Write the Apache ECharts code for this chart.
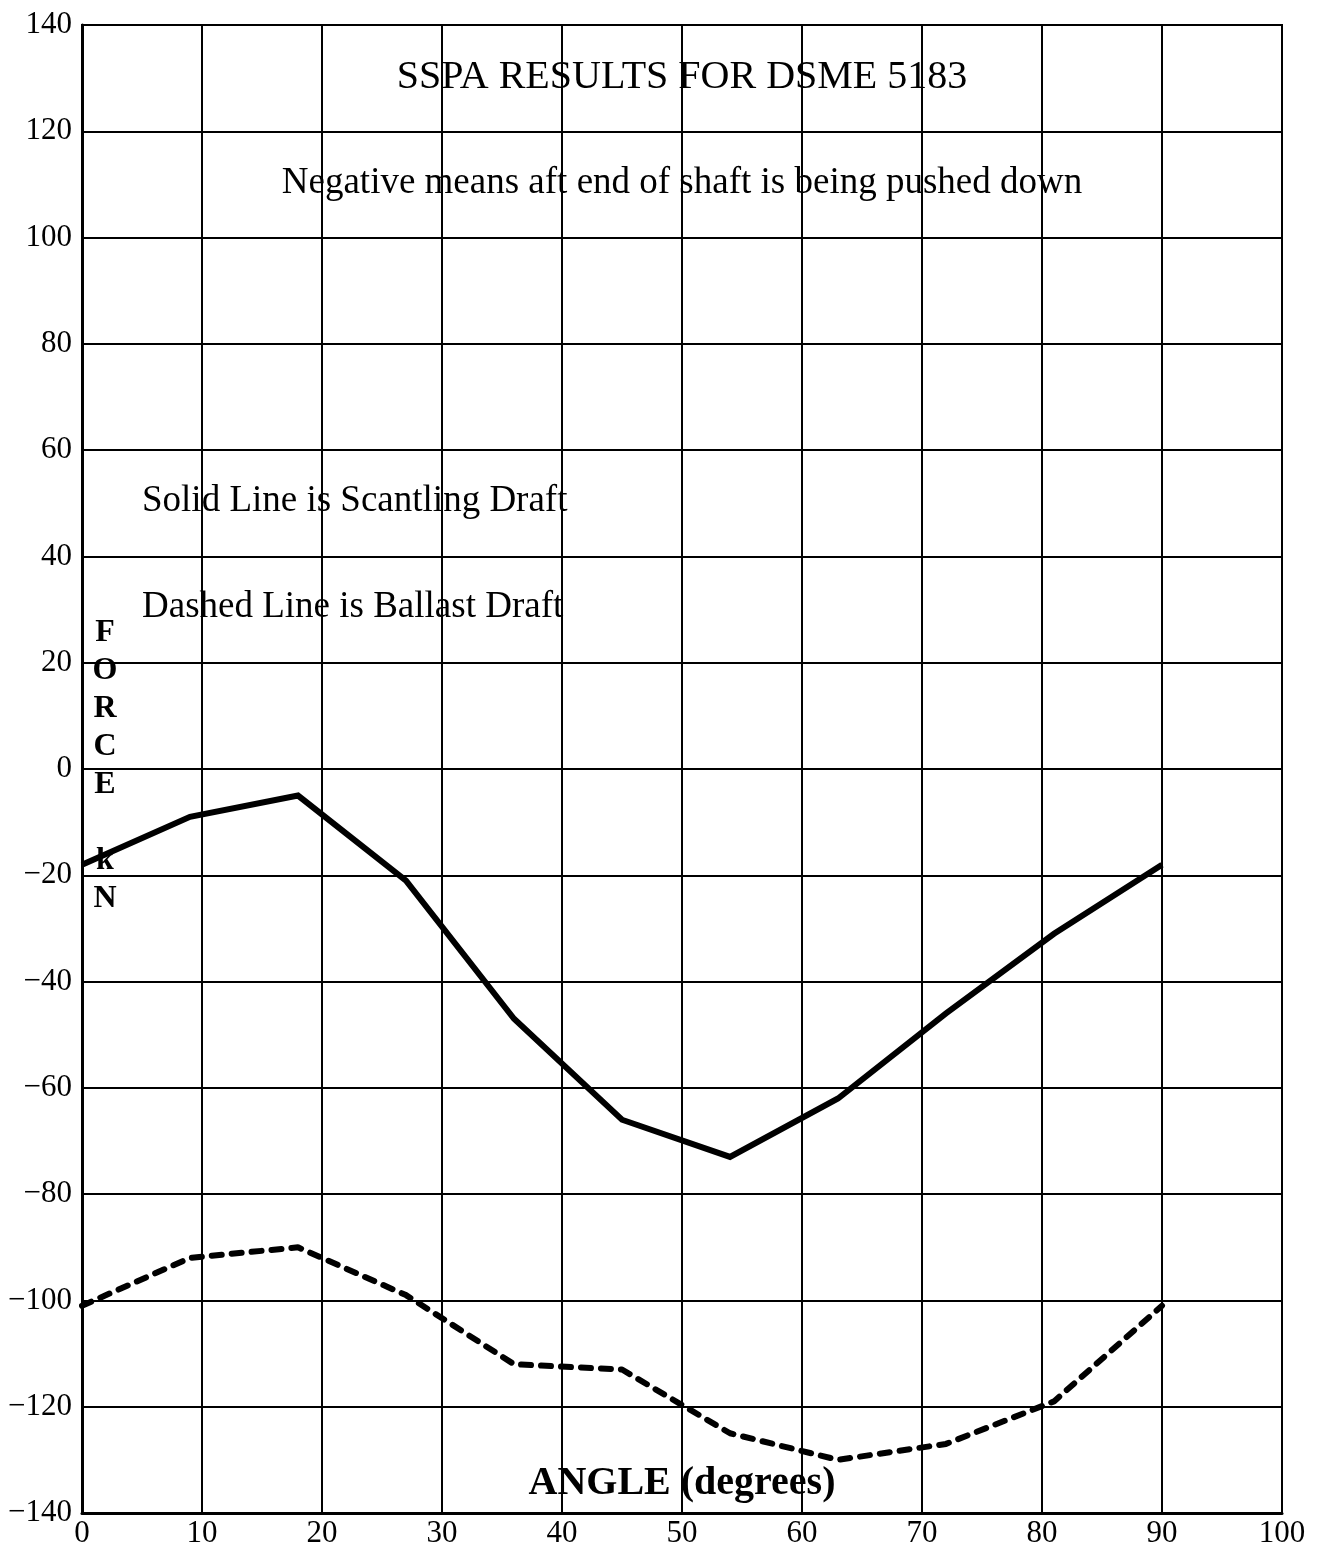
<!DOCTYPE html>
<html>
<head>
<meta charset="utf-8">
<script src="https://cdn.jsdelivr.net/npm/echarts@6/dist/echarts.min.js"></script>
<style>html,body{margin:0;padding:0;background:#fff}#c{width:1323px;height:1550px}</style>
</head>
<body>
<div id="c"></div>
<script>
const angles = [0, 9, 18, 27, 36, 45, 54, 63, 72, 81, 90];
const scantlingDraft = [-18, -9, -5, -21, -47, -66, -73, -62, -46, -31, -18];
const ballastDraft = [-101, -92, -90, -99, -112, -113, -125, -130, -127, -119, -101];
const titleText = 'SSPA RESULTS FOR DSME 5183';
const noteText = 'Negative means aft end of shaft is being pushed down';
const solidNote = 'Solid Line is Scantling Draft';
const dashedNote = 'Dashed Line is Ballast Draft';
const xName = 'ANGLE (degrees)';
const yName = 'F\nO\nR\nC\nE\n\nk\nN';

const FONT = '"Liberation Serif", "Times New Roman", serif';
const chart = echarts.init(document.getElementById('c'));
const fmt = v => String(v).replace('-', '\u2212');
chart.setOption({
  backgroundColor: '#fff',
  animation: false,
  grid: { left: 82, right: 41, top: 25, bottom: 37, containLabel: false },
  xAxis: {
    type: 'value', min: 0, max: 100, interval: 10,
    axisLine: { show: true, onZero: false, lineStyle: { color: '#000', width: 3 } },
    axisTick: { show: false },
    splitLine: { show: true, lineStyle: { color: '#000', width: 2 } },
    axisLabel: { color: '#000', fontFamily: FONT, fontSize: 31, margin: 5, formatter: fmt }
  },
  yAxis: {
    type: 'value', min: -140, max: 140, interval: 20,
    axisLine: { show: true, onZero: false, lineStyle: { color: '#000', width: 3 } },
    axisTick: { show: false },
    splitLine: { show: true, lineStyle: { color: '#000', width: 2 } },
    axisLabel: { color: '#000', fontFamily: FONT, fontSize: 31, margin: 10, formatter: fmt }
  },
  graphic: [
    { type: 'rect', shape: { x: 82, y: 25, width: 1200, height: 1488 }, style: { fill: 'none', stroke: '#000', lineWidth: 2 }, z: 10, silent: true },
    { type: 'text', x: 682, y: 77, z: 5, style: { text: titleText, font: '40px ' + FONT, fill: '#000', textAlign: 'center', textVerticalAlign: 'middle' } },
    { type: 'text', x: 682, y: 183, z: 5, style: { text: noteText, font: '37px ' + FONT, fill: '#000', textAlign: 'center', textVerticalAlign: 'middle' } },
    { type: 'text', x: 142, y: 501, z: 5, style: { text: solidNote, font: '37px ' + FONT, fill: '#000', textAlign: 'left', textVerticalAlign: 'middle' } },
    { type: 'text', x: 142, y: 607, z: 5, style: { text: dashedNote, font: '37px ' + FONT, fill: '#000', textAlign: 'left', textVerticalAlign: 'middle' } },
    { type: 'text', x: 682, y: 1484, z: 5, style: { text: xName, font: 'bold 40px ' + FONT, fill: '#000', textAlign: 'center', textVerticalAlign: 'middle' } },
    { type: 'text', x: 105, y: 614, z: 5, style: { text: yName, font: 'bold 32px ' + FONT, lineHeight: 38, fill: '#000', textAlign: 'center', textVerticalAlign: 'top' } }
  ],
  series: [
    {
      type: 'line', name: 'Scantling Draft', symbol: 'none', z: 3,
      data: angles.map((a, i) => [a, scantlingDraft[i]]),
      lineStyle: { color: '#000', width: 6, join: 'miter' }
    },
    {
      type: 'line', name: 'Ballast Draft', symbol: 'none', z: 3,
      data: angles.map((a, i) => [a, ballastDraft[i]]),
      lineStyle: { color: '#000', width: 6, type: [10, 10], cap: 'round' }
    }
  ]
});
</script>
</body>
</html>
